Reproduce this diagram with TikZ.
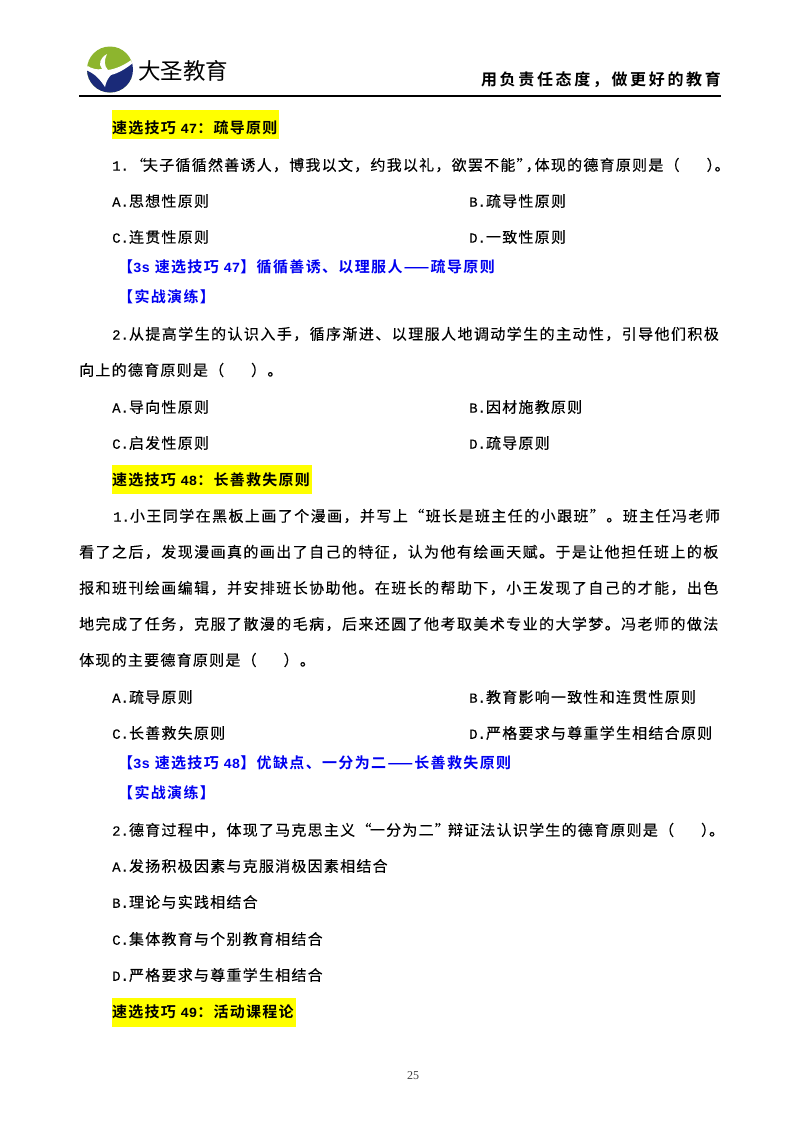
\documentclass[tikz,border=0pt]{standalone}
\usepackage{fontspec}
\setmainfont{Noto Sans CJK SC}[LetterSpace=8.3,FakeBold=0.2,BoldFont=Noto Sans CJK SC Bold,BoldFeatures={FakeBold=0}]
\newfontfamily\lat{Liberation Mono}[FakeBold=0.25,BoldFont=Liberation Mono Bold,BoldFeatures={FakeBold=0}]
\newfontfamily\wide{Noto Sans CJK SC}[LetterSpace=16.5,BoldFont=Noto Sans CJK SC Bold]
\newfontfamily\plain{Noto Sans CJK SC}
\newfontfamily\pagenum{Liberation Serif}
\newcommand{\la}[1]{{\lat\fontsize{14}{16}\selectfont #1}}
\newcommand{\gap}{\hspace{27pt}}
\definecolor{hl}{HTML}{FFFF00}
\definecolor{lk}{HTML}{0000F0}
\definecolor{navy}{HTML}{1A2A78}
\definecolor{leaf}{HTML}{8DB52E}
\tikzset{
 x=1pt,y=-1pt,
 txt/.style={anchor=west,inner sep=0pt,font=\fontsize{15}{18}\selectfont,text=black},
 tight/.style={txt,font=\fontsize{15}{18}\selectfont\addfontfeature{LetterSpace=9.5}},
 head/.style={txt,font=\fontsize{15}{18}\selectfont\bfseries},
 lnk/.style={txt,font=\fontsize{15}{18}\selectfont\bfseries\addfontfeature{LetterSpace=9},text=lk},
 hlbar/.style={fill=hl,draw=none}
}
\begin{document}
\begin{tikzpicture}
\useasboundingbox (0,0) rectangle (800,1130);
\fill[white] (0,0) rectangle (800,1130);
% logo
\begin{scope}
\clip (110,69.5) circle (23);
\fill[leaf] (87,46) rectangle (133,93);
\fill[navy] (86,70) .. controls (95,74) and (105,76) .. (112,74)
  .. controls (120,72) and (127,66) .. (134,62) -- (134,94) -- (86,94) -- cycle;
\fill[white] (86,65) .. controls (92,69) and (97,70) .. (102,69)
  .. controls (98,64) and (100,58) .. (107,54)
  .. controls (104,60) and (104,66) .. (108,70)
  .. controls (116,69) and (125,65) .. (134,58)
  -- (134,62) .. controls (127,68) and (119,73) .. (111,75)
  .. controls (108,78) and (106,82) .. (105,87)
  .. controls (101,81) and (96,74) .. (86,70) -- cycle;
\end{scope}
\node[anchor=west,inner sep=0pt,font=\plain\fontsize{22.5}{24}\selectfont] (brand) at (138,71) {大圣教育};
\node[anchor=east,inner sep=0pt,font=\wide\bfseries\fontsize{16}{18}\selectfont] (motto) at (721,80) {用负责任态度，做更好的教育};
\draw[line width=2pt,black] (79,95.5) -- (721,95.5);
% highlights
\fill[hlbar] (112,110) rectangle (279,139);
\fill[hlbar] (112,465) rectangle (312,494);
\fill[hlbar] (112,998) rectangle (296,1027);
% section 47
\node[head] (h47) at (112,128) {速选技巧 \la{47}：疏导原则};
\node[txt] (a1) at (112,165) {\la{1.}\hspace{2pt}“\hspace{-3pt}夫子循循然善诱人，博我以文，约我以礼，欲罢不能”\hspace{-6pt}，\hspace{-6pt}体现的德育原则是（\gap）\hspace{-7pt}。};
\node[txt] (a2) at (112,201) {\la{A.}思想性原则};
\node[txt] (a3) at (469,201) {\la{B.}疏导性原则};
\node[txt] (a4) at (112,237) {\la{C.}连贯性原则};
\node[txt] (a5) at (469,237) {\la{D.}一致性原则};
\node[lnk] (a6) at (118,267) {【\la{3s} 速选技巧 \la{47}】循循善诱、以理服人——疏导原则};
\node[lnk] (a7) at (118,297) {【实战演练】};
\node[tight] (a8) at (112,334) {\la{2.}从提高学生的认识入手，循序渐进、以理服人地调动学生的主动性，引导他们积极};
\node[txt] (a9) at (79,370) {向上的德育原则是（\gap）。};
\node[txt] (a10) at (112,407) {\la{A.}导向性原则};
\node[txt] (a11) at (469,407) {\la{B.}因材施教原则};
\node[txt] (a12) at (112,443) {\la{C.}启发性原则};
\node[txt] (a13) at (469,443) {\la{D.}疏导原则};
% section 48
\node[head] (h48) at (112,480) {速选技巧 \la{48}：长善救失原则};
\node[tight] (b1) at (113,516) {\la{1.}小王同学在黑板上画了个漫画，并写上“班长是班主任的小跟班”。班主任冯老师};
\node[tight] (b2) at (79,552) {看了之后，发现漫画真的画出了自己的特征，认为他有绘画天赋。于是让他担任班上的板};
\node[tight] (b3) at (79,588) {报和班刊绘画编辑，并安排班长协助他。在班长的帮助下，小王发现了自己的才能，出色};
\node[tight] (b4) at (79,624) {地完成了任务，克服了散漫的毛病，后来还圆了他考取美术专业的大学梦。冯老师的做法};
\node[txt] (b5) at (79,660) {体现的主要德育原则是（\gap）。};
\node[txt] (b6) at (112,697) {\la{A.}疏导原则};
\node[txt] (b7) at (469,697) {\la{B.}教育影响一致性和连贯性原则};
\node[txt] (b8) at (112,733) {\la{C.}长善救失原则};
\node[txt] (b9) at (469,733) {\la{D.}严格要求与尊重学生相结合原则};
\node[lnk] (b10) at (118,763) {【\la{3s} 速选技巧 \la{48}】优缺点、一分为二——长善救失原则};
\node[lnk] (b11) at (118,793) {【实战演练】};
\node[txt] (b12) at (112,830) {\la{2.}德育过程中，体现了马克思主义“\hspace{-1.5pt}一分为二”\hspace{-2pt}辩证法认识学生的德育原则是（\gap）\hspace{-7pt}。};
\node[txt] (b13) at (112,866) {\la{A.}发扬积极因素与克服消极因素相结合};
\node[txt] (b14) at (112,902) {\la{B.}理论与实践相结合};
\node[txt] (b15) at (112,939) {\la{C.}集体教育与个别教育相结合};
\node[txt] (b16) at (112,975) {\la{D.}严格要求与尊重学生相结合};
% section 49
\node[head] (h49) at (112,1012) {速选技巧 \la{49}：活动课程论};
\node[anchor=center,inner sep=0pt,font=\pagenum\fontsize{12}{14}\selectfont,text=black!75] (pg) at (413,1076) {25};
\end{tikzpicture}
\end{document}
